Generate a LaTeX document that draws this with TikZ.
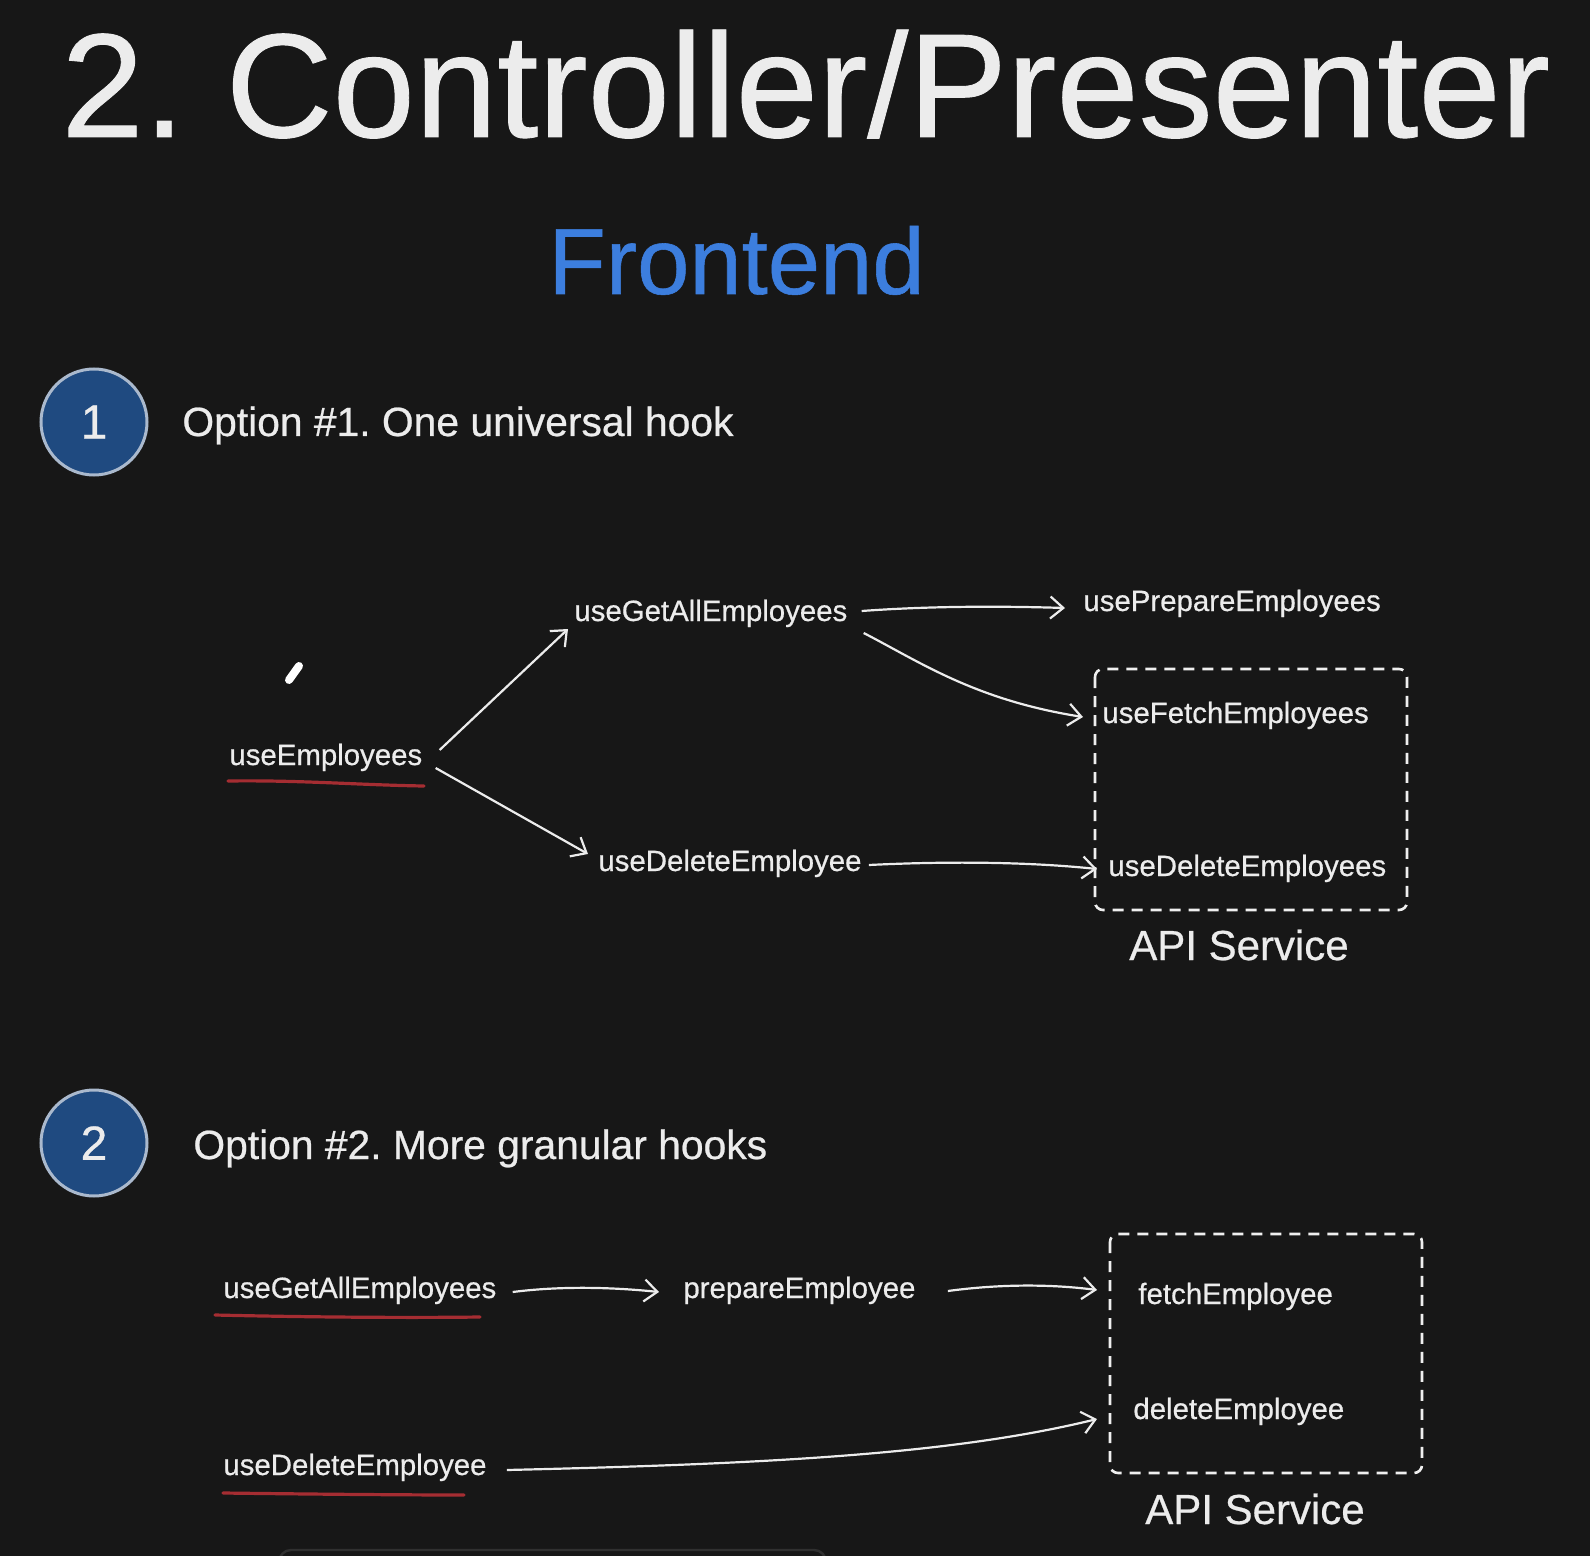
\documentclass[tikz,border=0pt]{standalone}
\usepackage{fontspec}
\setmainfont{Liberation Sans}[FakeBold=0.6]
\usetikzlibrary{arrows.meta}
\definecolor{bg}{RGB}{23,23,23}
\definecolor{fg}{RGB}{236,236,236}
\definecolor{blu}{RGB}{60,126,222}
\definecolor{circfill}{RGB}{31,74,128}
\definecolor{circline}{RGB}{170,185,205}
\definecolor{uline}{RGB}{165,45,50}
\definecolor{faint}{RGB}{48,48,48}
\frenchspacing
\begin{document}
\begin{tikzpicture}[x=0.5pt,y=-0.5pt,
  lbl/.style={text=fg, inner sep=0pt, anchor=base west, text height=11pt, text depth=3pt, font=\fontsize{14.7}{17}\selectfont},
  arr/.style={draw=fg, line width=1.1pt, -{Straight Barb[length=6.5pt,width=11pt,line width=1.1pt]}},
  ul/.style={draw=uline, line width=1.6pt, line cap=round},
  dbox/.style={draw=fg!85, line width=1.3pt, dash pattern=on 5.5pt off 4pt, rounded corners=4pt},
  badge/.style={circle, fill=circfill, draw=circline, line width=1.5pt, minimum size=53pt, inner sep=0pt, text=fg, font=\fontsize{24}{28}\selectfont},
  hdr/.style={text=fg, inner sep=0pt, anchor=base west, font=\fontsize{20.4}{24}\selectfont},
  api/.style={text=fg, inner sep=0pt, anchor=base, font=\fontsize{21}{25}\selectfont}]
\fill[bg] (0,0) rectangle (1590,1556);
\useasboundingbox (0,0) rectangle (1590,1556);

% titles
\node[text=fg, inner sep=0pt, anchor=base west, font=\fontsize{74}{80}\selectfont] (title) at (61,137) {2. Controller/Presenter};
\node[text=blu, inner sep=0pt, anchor=base west, font=\fontsize{47}{54}\selectfont] (front) at (548,294) {Frontend};

% option 1
\node[badge] (b1) at (94,422) {1};
\node[hdr] (h1) at (182,436) {Option \#1. One universal hook};

\node[lbl] (ue) at (229,765) {useEmployees};
\node[lbl] (ug) at (574,621) {useGetAllEmployees};
\node[lbl] (up) at (1083,611) {usePrepareEmployees};
\node[lbl] (uf) at (1102,723) {useFetchEmployees};
\node[lbl] (ud) at (598,871) {useDeleteEmployee};
\node[lbl] (uds) at (1108,876) {useDeleteEmployees};
\draw[dbox] (1095,669) rectangle (1407,910);
\node[api] (api1) at (1239,960) {API Service};

\draw[ul] (228,781) .. controls (300,780) and (360,785) .. (424,786);

\draw[arr] ([shift={(17,-7)}]ue.east) -- ([shift={(-6,16)}]ug.west);
\draw[arr] ([shift={(13,11)}]ue.east) -- ([shift={(-10,-9)}]ud.west);
\draw[arr] ([shift={(14,-2)}]ug.east) .. controls (930,606) and (1000,606) .. ([shift={(-18,5)}]up.west);
\draw[arr] ([shift={(16,20)}]ug.east) .. controls (920,662) and (975,700) .. ([shift={(-19,2)}]uf.west);
\draw[arr] ([shift={(7,2)}]ud.east) .. controls (950,861) and (1030,862) .. ([shift={(-11,1)}]uds.west);

% pencil mark
\draw[white, line width=4pt, line cap=round] (289,680) -- (299,666);

% option 2
\node[badge] (b2) at (94,1143) {2};
\node[hdr] (h2) at (193,1159) {Option \#2. More granular hooks};

\node[lbl] (g2) at (223,1298) {useGetAllEmployees};
\node[lbl] (p2) at (683,1298) {prepareEmployee};
\node[lbl] (f2) at (1138,1304) {fetchEmployee};
\node[lbl] (d2) at (1133,1419) {deleteEmployee};
\node[lbl] (dd2) at (223,1475) {useDeleteEmployee};
\draw[dbox] (1110,1234) rectangle (1422,1473);
\node[api] (api2) at (1255,1524) {API Service};

\draw[ul] (215,1315) .. controls (300,1317) and (400,1318) .. (480,1317);
\draw[ul] (223,1493) .. controls (300,1494) and (400,1495) .. (464,1495);

\draw[arr] ([shift={(16,2)}]g2.east) .. controls (560,1286) and (610,1287) .. ([shift={(-24,2)}]p2.west);
\draw[arr] ([shift={(32,1)}]p2.east) .. controls (1000,1284) and (1050,1284) .. ([shift={(-41,-6)}]f2.west);
\draw[arr] ([shift={(20,3)}]dd2.east) .. controls (760,1464) and (950,1455) .. ([shift={(-36,8)}]d2.west);

% faint bottom overlay
\draw[faint, line width=1.2pt, rounded corners=6pt] (279,1570) -- (279,1550) -- (826,1550) -- (826,1570);
\end{tikzpicture}
\end{document}
